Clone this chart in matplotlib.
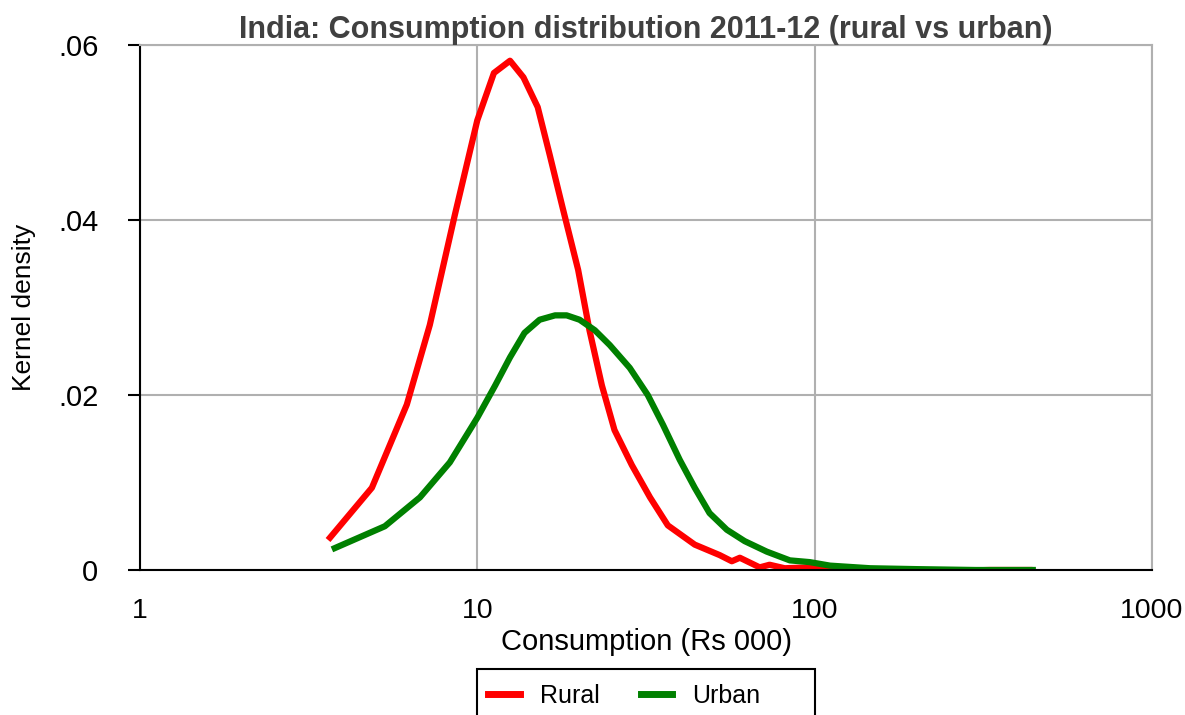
import numpy as np
import matplotlib
matplotlib.use("Agg")
from matplotlib import pyplot as plt
from matplotlib.patches import Rectangle
from matplotlib.ticker import FixedLocator, FixedFormatter, NullLocator

plt.rcParams['font.family'] = ['Liberation Sans', 'DejaVu Sans']

# donnees (consommation en milliers de Rs, densite)
rural_x = [3.66, 4.87, 6.18, 7.23, 8.58, 10.0, 11.2, 12.5, 13.7, 15.1, 16.4, 17.9,
           19.9, 21.5, 23.4, 25.5, 28.7, 32.5, 36.7, 44.1, 52.3, 56.8, 60.0, 68.7,
           73.5, 81.5, 96.7, 111, 140, 180, 250, 330, 433]
rural_y = [0.0037, 0.0094, 0.0189, 0.0280, 0.0406, 0.0514, 0.0568, 0.0582, 0.0563,
           0.0529, 0.0474, 0.0414, 0.0343, 0.0274, 0.0211, 0.0160, 0.0120, 0.0083,
           0.0051, 0.0029, 0.0017, 0.0010, 0.0014, 0.0003, 0.0006, 0.0002, 0.0003,
           0.0000, 0.0000, -0.0001, -0.0001, 0.0000, 0.0000]

urban_x = [3.78, 5.32, 6.76, 8.29, 10.0, 11.3, 12.5, 13.8, 15.3, 17.0, 18.4, 20.1,
           22.3, 24.7, 28.3, 32.0, 35.5, 39.8, 44.1, 48.8, 54.9, 62.0, 72.1, 84.4,
           96.7, 111, 146, 200, 300, 443]
urban_y = [0.0025, 0.0050, 0.0083, 0.0123, 0.0174, 0.0211, 0.0243, 0.0271, 0.0286,
           0.0291, 0.0291, 0.0286, 0.0274, 0.0257, 0.0231, 0.0200, 0.0166, 0.0126,
           0.0094, 0.0065, 0.0046, 0.0033, 0.0021, 0.0011, 0.0009, 0.0005, 0.0002,
           0.0001, 0.0000, 0.0000]

xticks = [1, 10, 100, 1000]
xlabels = ['1', '10', '100', '1000']
yticks = [0, 0.02, 0.04, 0.06]
ylabels = ['0', '.02', '.04', '.06']

fig = plt.figure(figsize=(11.85, 7.15), dpi=100)
ax = fig.add_axes([0.1181, 0.2028, 0.8541, 0.7343])

ax.plot(rural_x, rural_y, color='#ff0000', lw=4.5, label='Rural', solid_joinstyle='round')
ax.plot(urban_x, urban_y, color='#008000', lw=4.5, label='Urban', solid_joinstyle='round')

ax.set_xscale('log')
ax.set_xlim(1, 1000)
ax.set_ylim(0, 0.06)
ax.xaxis.set_major_locator(FixedLocator(xticks))
ax.xaxis.set_major_formatter(FixedFormatter(xlabels))
ax.xaxis.set_minor_locator(NullLocator())
ax.yaxis.set_major_locator(FixedLocator(yticks))
ax.yaxis.set_major_formatter(FixedFormatter(ylabels))

ax.grid(True, color='#b0b0b0', lw=1.5)
ax.set_axisbelow(True)
for s in ['top', 'right']:
    ax.spines[s].set_color('#b0b0b0')
    ax.spines[s].set_linewidth(1.5)
for s in ['left', 'bottom']:
    ax.spines[s].set_color('black')
    ax.spines[s].set_linewidth(1.5)

ax.tick_params(axis='x', length=0, pad=20, labelsize=20.5)
ax.tick_params(axis='y', length=9, width=1.5, pad=21, labelsize=21)

ax.set_xlabel('Consumption (Rs 000)', fontsize=21, labelpad=3)
ax.set_ylabel('Kernel density', fontsize=19)
ax.yaxis.set_label_coords(-0.103, 0.5)
ax.set_title('India: Consumption distribution 2011-12 (rural vs urban)',
             fontsize=22, fontweight='bold', color='#404040', pad=5)

## legende (boite style Stata, plus large que son contenu)
box = Rectangle((477 / 1185, -0.05), (815 - 477) / 1185, 0.05 + (715 - 669) / 715,
                transform=fig.transFigure, fill=False, edgecolor='black', lw=1.5)
fig.patches.append(box)

leg = fig.legend(loc='center left', bbox_to_anchor=(477 / 1185, 1 - 696 / 715),
                 ncol=2, fontsize=18, frameon=False,
                 handlelength=1.25, handletextpad=0.8, columnspacing=1.65,
                 borderpad=0.45, borderaxespad=0)
for l in leg.get_lines():
    l.set_linewidth(5)

plt.savefig('out.png', dpi=100)
